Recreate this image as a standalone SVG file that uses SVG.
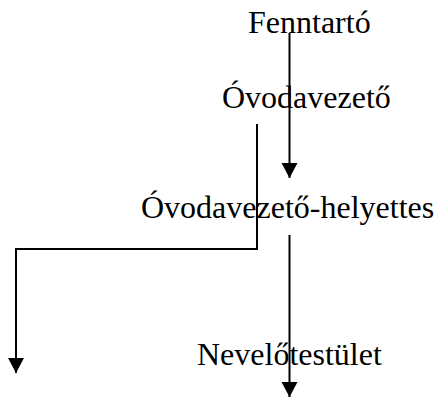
<svg xmlns="http://www.w3.org/2000/svg" width="435" height="398" viewBox="0 0 435 398">
<style>
.lbl{font-family:"Liberation Serif","Times New Roman",serif;font-size:32px;fill:#000}
.ln{fill:none;stroke:#000;stroke-width:2}
</style>
<defs>
<marker id="ah" markerUnits="userSpaceOnUse" markerWidth="16" markerHeight="16" refX="15" refY="8" orient="auto" overflow="visible">
<path d="M0,0 L15,8 L0,16 z" fill="#000"/>
</marker>
</defs>
<rect width="435" height="398" fill="#fff"/>
<g id="n-fenntarto"><text class="lbl" x="248" y="33">Fenntartó</text></g>
<g id="n-ovodavezeto"><text class="lbl" x="222" y="108">Óvodavezető</text></g>
<g id="n-helyettes"><text class="lbl" x="141" y="218">Óvodavezető-helyettes</text></g>
<g id="n-nevelotestulet"><text class="lbl" x="197" y="365">Nevelőtestület</text></g>
<g id="connectors">
<path class="ln" d="M289.5,33 V178" marker-end="url(#ah)"/>
<path class="ln" d="M257,124 V249 H16 V373" marker-end="url(#ah)"/>
<path class="ln" d="M289.5,235 V397" marker-end="url(#ah)"/>
</g>
</svg>
